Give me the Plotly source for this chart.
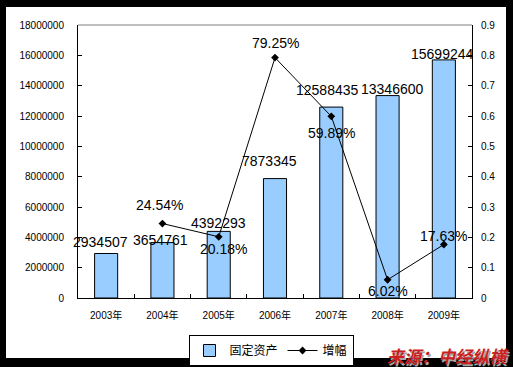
import plotly.graph_objects as go

years = ["2003年", "2004年", "2005年", "2006年", "2007年", "2008年", "2009年"]
assets = [2934507, 3654761, 4392293, 7873345, 12588435, 13346600, 15699244]
growth_years = ["2004年", "2005年", "2006年", "2007年", "2008年", "2009年"]
growth = [0.2454, 0.2018, 0.7925, 0.5989, 0.0602, 0.1763]
growth_labels = ["24.54%", "20.18%", "79.25%", "59.89%", "6.02%", "17.63%"]

# label offsets (style only)
bar_label_dy = [11, 3, 8, 18, 17, 7, 6]
bar_label_dx = [-6, -2, 0, -6, -4, 5, -1]
growth_label_dy = [19, -12, 15, -17, -11, 9]
growth_label_dx = [-3, 5, 0, 0, 0, 0, 6]

FONT = "Liberation Sans, Arial, Noto Sans CJK SC"

fig = go.Figure()
fig.add_trace(go.Bar(
    x=years, y=assets, name="固定资产",
    marker=dict(color="#99CCFF", line=dict(color="black", width=1)),
    width=0.41, yaxis="y",
))
fig.add_trace(go.Scatter(
    x=growth_years, y=growth, name="增幅", yaxis="y2",
    mode="lines+markers",
    line=dict(color="black", width=1),
    marker=dict(symbol="diamond", size=6, color="black"),
))

annotations = []
for i, (yr, v) in enumerate(zip(years, assets)):
    annotations.append(dict(
        x=yr, y=v, xref="x", yref="y", text=str(v), showarrow=False,
        yshift=bar_label_dy[i], xshift=bar_label_dx[i],
        font=dict(family=FONT, size=14, color="black"),
    ))
for i, (yr, v, t) in enumerate(zip(growth_years, growth, growth_labels)):
    annotations.append(dict(
        x=yr, y=v, xref="x", yref="y2", text=t, showarrow=False,
        yshift=growth_label_dy[i], xshift=growth_label_dx[i],
        font=dict(family=FONT, size=14, color="black"),
    ))

W, H = 513, 367
L, R, T, B = 78, 472, 25, 298
pw, ph = R - L, B - T


def px(xp):
    return (xp - L) / pw


def py(yp):
    return (B - yp) / ph


# source text with shadow
annotations.append(dict(
    x=px(448), y=py(355), xref="paper", yref="paper",
    text="<b><i>来源：中经纵横</i></b>", showarrow=False,
    xanchor="center", yanchor="middle",
    font=dict(family="Noto Sans CJK SC", size=17, color="#cc1f1f",
              shadow="1.5px 1.5px 0px #a8a8a8"),
))

shapes = [
    dict(type="rect", xref="paper", yref="paper",
         x0=px(6), x1=px(506), y0=py(358), y1=py(7),
         fillcolor="white", line=dict(width=0), layer="below"),
    dict(type="line", xref="paper", yref="paper",
         x0=0, x1=1, y0=1, y1=1, line=dict(color="#808080", width=1)),
]

fig.update_layout(
    template="none",
    width=W, height=H,
    margin=dict(l=L, r=W - R, t=T, b=H - B, pad=0, autoexpand=False),
    paper_bgcolor="black", plot_bgcolor="white",
    font=dict(family=FONT, size=10, color="black"),
    showlegend=True,
    legend=dict(
        orientation="h", x=px(271), y=py(335), xanchor="center", yanchor="top",
        bordercolor="black", borderwidth=1, bgcolor="white",
        font=dict(family=FONT, size=12, color="black"),
        itemwidth=30, tracegroupgap=0, entrywidthmode="pixels",
    ),
    xaxis=dict(
        type="category", showline=True, linecolor="black", linewidth=1,
        ticks="inside", ticklen=4, tickcolor="black", tickson="boundaries",
        ticklabelstandoff=8, automargin=False,
        tickfont=dict(family=FONT, size=10, color="black"),
        showgrid=False, zeroline=False, range=[-0.5, 6.5],
    ),
    yaxis=dict(
        range=[0, 18000000], dtick=2000000, tickformat="d",
        showline=True, linecolor="black", linewidth=1,
        ticks="inside", ticklen=4, tickcolor="black",
        ticklabelstandoff=11, automargin=False,
        tickfont=dict(family=FONT, size=10, color="black"),
        showgrid=False, zeroline=False,
    ),
    yaxis2=dict(
        overlaying="y", side="right", range=[0, 0.9], dtick=0.1,
        tickformat="~g",
        showline=True, linecolor="black", linewidth=1,
        ticks="inside", ticklen=4, tickcolor="black",
        ticklabelstandoff=6, automargin=False,
        tickfont=dict(family=FONT, size=10, color="black"),
        showgrid=False, zeroline=False,
    ),
    annotations=annotations,
    shapes=shapes,
)

fig.write_html(
    "out.html",
    config={"displayModeBar": False},
    post_script="document.body.style.margin='0';document.body.style.overflow='hidden';",
)
